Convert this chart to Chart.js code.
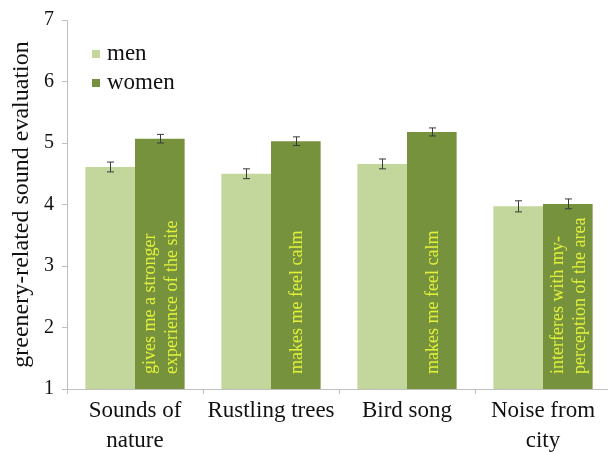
<!DOCTYPE html>
<html>
<head>
<meta charset="utf-8">
<script src="https://cdn.jsdelivr.net/npm/chart.js@4.4.1/dist/chart.umd.min.js"></script>
<style>
  html, body { margin: 0; padding: 0; background: #ffffff; overflow: hidden; }
  #wrap { width: 611px; height: 452px; }
</style>
</head>
<body>
<div id="wrap"><canvas id="chart"></canvas></div>
<script>
// Categories (multi-line tick labels)
const categories = [
  ['Sounds of', 'nature'],
  'Rustling trees',
  'Bird song',
  ['Noise from', 'city']
];

// Mean evaluation per group
const menValues   = [4.61, 4.50, 4.66, 3.97];
const womenValues = [5.07, 5.03, 5.18, 4.01];

// Standard errors
const menErrors   = [0.08, 0.08, 0.08, 0.09];
const womenErrors = [0.07, 0.07, 0.065, 0.08];

// Descriptions written inside the women bars
const barNotes = [
  ['gives me a stronger', 'experience of the site'],
  ['makes me feel calm'],
  ['makes me feel calm'],
  ['interferes with my-', 'perception of the area']
];

const yTicks = [1, 2, 3, 4, 5, 6, 7];

const SERIF = '"Liberation Serif", "Times New Roman", serif';
const AXIS_GRAY = '#bfbfbf';

// Error bars drawn from the y scale
const errorBarPlugin = {
  id: 'errorBars',
  afterDatasetsDraw(chart) {
    const ctx = chart.ctx;
    const y = chart.scales.y;
    const errs = [menErrors, womenErrors];
    ctx.save();
    ctx.strokeStyle = '#3a3a3a';
    ctx.lineWidth = 1;
    chart.data.datasets.forEach((ds, di) => {
      const meta = chart.getDatasetMeta(di);
      meta.data.forEach((bar, i) => {
        const v = ds.data[i];
        const e = errs[di][i];
        const x = Math.round(bar.x) + 0.5;
        const yt = y.getPixelForValue(v + e);
        const yb = y.getPixelForValue(v - e);
        ctx.beginPath();
        ctx.moveTo(x, yt); ctx.lineTo(x, yb);
        ctx.moveTo(x - 3.5, yt); ctx.lineTo(x + 3.5, yt);
        ctx.moveTo(x - 3.5, yb); ctx.lineTo(x + 3.5, yb);
        ctx.stroke();
      });
    });
    ctx.restore();
  }
};

// Vertical notes inside the women bars
const barNotesPlugin = {
  id: 'barNotes',
  afterDatasetsDraw(chart) {
    const ctx = chart.ctx;
    const meta = chart.getDatasetMeta(1);
    const bottom = chart.scales.y.getPixelForValue(chart.scales.y.min);
    ctx.save();
    ctx.fillStyle = '#e2f23c';
    ctx.font = '18px ' + SERIF;
    ctx.textAlign = 'left';
    ctx.textBaseline = 'middle';
    const lineGap = 22;
    meta.data.forEach((bar, i) => {
      const lines = barNotes[i];
      const startY = bottom - 15;
      lines.forEach((txt, li) => {
        const offset = (li - (lines.length - 1) / 2) * lineGap;
        ctx.save();
        ctx.translate(bar.x + offset + 1, startY);
        ctx.rotate(-Math.PI / 2);
        ctx.fillText(txt, 0, 0);
        ctx.restore();
      });
    });
    ctx.restore();
  }
};

// Legend placed in the upper left of the plot
const innerLegendPlugin = {
  id: 'innerLegend',
  afterDraw(chart) {
    const ctx = chart.ctx;
    ctx.save();
    ctx.font = '23px ' + SERIF;
    ctx.textBaseline = 'middle';
    ctx.textAlign = 'left';
    chart.data.datasets.forEach((ds, i) => {
      const cy = 54 + i * 29;
      ctx.fillStyle = ds.backgroundColor;
      ctx.fillRect(92, cy - 4, 8, 8);
      ctx.fillStyle = '#111111';
      ctx.fillText(ds.label, 107, cy);
    });
    ctx.restore();
  }
};

new Chart(document.getElementById('chart'), {
  type: 'bar',
  data: {
    labels: categories,
    datasets: [
      { label: 'men',   data: menValues,   backgroundColor: '#c3d69b', borderWidth: 0 },
      { label: 'women', data: womenValues, backgroundColor: '#76923c', borderWidth: 0 }
    ]
  },
  options: {
    responsive: true,
    maintainAspectRatio: false,
    animation: false,
    datasets: { bar: { categoryPercentage: 0.73, barPercentage: 1.0 } },
    layout: { padding: { top: 20, left: 0, right: 0, bottom: 0 } },
    plugins: {
      legend: { display: false },
      tooltip: { enabled: false }
    },
    scales: {
      x: {
        grid: {
          display: true,
          drawOnChartArea: false,
          drawTicks: true,
          tickLength: 5,
          color: AXIS_GRAY,
          offset: true
        },
        border: { display: true, color: AXIS_GRAY, width: 1 },
        ticks: {
          color: '#111111',
          font: { family: SERIF, size: 23, lineHeight: 1.3 },
          padding: 2,
          maxRotation: 0,
          autoSkip: false
        },
        afterFit(scale) { scale.height = 63; }
      },
      y: {
        min: 1,
        max: 7,
        afterBuildTicks(scale) { scale.ticks = yTicks.map(v => ({ value: v })); },
        grid: {
          display: true,
          drawOnChartArea: false,
          drawTicks: true,
          tickLength: 5,
          color: AXIS_GRAY
        },
        border: { display: true, color: AXIS_GRAY, width: 1 },
        ticks: {
          color: '#111111',
          font: { family: SERIF, size: 20 },
          padding: 8
        },
        title: {
          display: true,
          text: 'greenery-related sound evaluation',
          color: '#111111',
          font: { family: SERIF, size: 24, lineHeight: 1.2 },
          padding: { top: 7, bottom: 0 }
        },
        afterFit(scale) { scale.width = 67; }
      }
    }
  },
  plugins: [errorBarPlugin, barNotesPlugin, innerLegendPlugin]
});
</script>
</body>
</html>
